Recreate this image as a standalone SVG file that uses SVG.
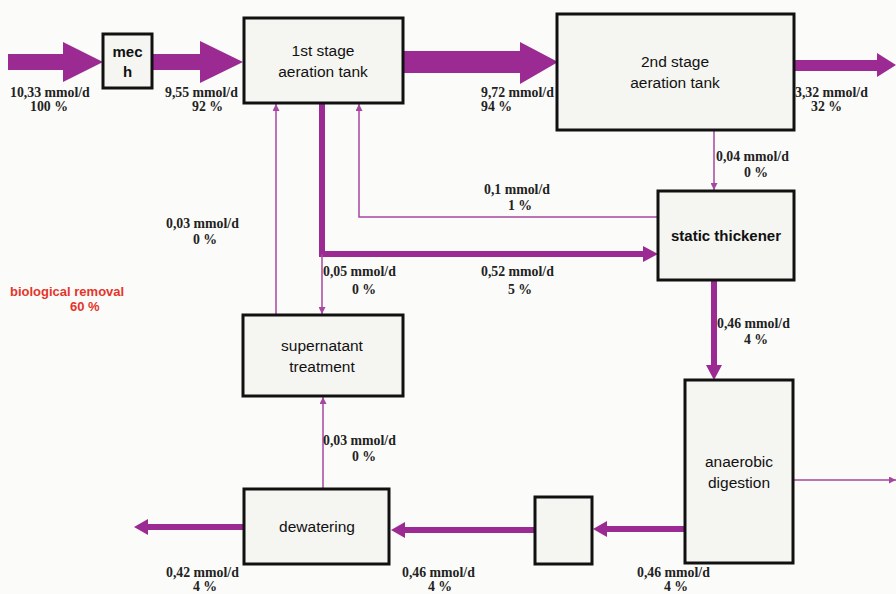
<svg xmlns="http://www.w3.org/2000/svg" width="896" height="594" viewBox="0 0 896 594">
  <defs>
    <style>
      .box { fill: #f5f5f1; stroke: #111; stroke-width: 3; }
      .node { font-family: "Liberation Sans", Arial, sans-serif; font-size: 15.5px; fill: #111; text-anchor: middle; }
      .nodeb { font-family: "Liberation Sans", Arial, sans-serif; font-size: 15px; font-weight: bold; fill: #111; text-anchor: middle; }
      .lbl { font-family: "Liberation Serif", "Times New Roman", serif; font-size: 13.8px; font-weight: bold; fill: #222; }
      .thick { fill: #9b2a92; }
      .thickline { fill: none; stroke: #9b2a92; stroke-width: 6; }
      .thin { fill: none; stroke: #a8479f; stroke-width: 1.5; }
      .red { font-family: "Liberation Sans", Arial, sans-serif; font-size: 13px; font-weight: bold; fill: #e5352b; }
    </style>
    <marker id="tip" viewBox="0 0 10 10" refX="10" refY="5" markerWidth="7" markerHeight="7" markerUnits="userSpaceOnUse" orient="auto">
      <path d="M0,0 L10,5 L0,10 z" fill="#a8479f"/>
    </marker>
  </defs>

  <rect width="896" height="594" fill="#fbfbf9"/>

  <!-- connectors -->
  <g id="connectors">
    <!-- inflow -->
    <polygon class="thick" points="8,54 63,54 63,42 103,62 63,82 63,70 8,70"/>
    <!-- mech to 1st stage -->
    <polygon class="thick" points="152,54 200,54 200,41 243,62 200,83 200,70 152,70"/>
    <!-- 1st stage to 2nd stage -->
    <polygon class="thick" points="403,51 520,51 520,42 558,62 520,84 520,73 403,73"/>
    <!-- effluent -->
    <polygon class="thick" points="794,60 877,60 877,53 896,65 877,77 877,71 794,71"/>
    <!-- excess sludge from 1st stage to thickener -->
    <path class="thickline" d="M322,103 V254 H645"/>
    <polygon class="thick" points="643,246 658,254 643,262"/>
    <!-- thickener to digestion -->
    <path class="thickline" d="M714,280 V366"/>
    <polygon class="thick" points="706,365 722,365 714,380"/>
    <!-- digestion to small box -->
    <path class="thickline" d="M685,529 H605"/>
    <polygon class="thick" points="607,521 607,537 593,529"/>
    <!-- small box to dewatering -->
    <path class="thickline" d="M535,530 H403"/>
    <polygon class="thick" points="405,522 405,538 391,530"/>
    <!-- dewatering outlet -->
    <path class="thickline" d="M244,527 H146"/>
    <polygon class="thick" points="148,519 148,535 134,527"/>

    <!-- supernatant return to 1st stage -->
    <path class="thin" d="M276,315 V104" marker-end="url(#tip)"/>
    <!-- thickener overflow to 1st stage -->
    <path class="thin" d="M658,217 H359 V104" marker-end="url(#tip)"/>
    <!-- branch to supernatant treatment -->
    <path class="thin" d="M322,254 V314" marker-end="url(#tip)"/>
    <!-- 2nd stage to thickener -->
    <path class="thin" d="M714,130 V190" marker-end="url(#tip)"/>
    <!-- dewatering to supernatant treatment -->
    <path class="thin" d="M323,489 V397" marker-end="url(#tip)"/>
    <!-- digestion outlet -->
    <path class="thin" d="M793,480 H896" marker-end="url(#tip)"/>
  </g>

  <!-- nodes -->
  <g id="mech">
    <rect class="box" x="103" y="34" width="49" height="54"/>
    <text class="nodeb" x="127.5" y="57">mec</text>
    <text class="nodeb" x="127.5" y="77">h</text>
  </g>
  <g id="stage1">
    <rect class="box" x="244" y="18" width="159" height="85"/>
    <text class="node" x="323" y="56">1st stage</text>
    <text class="node" x="323" y="77">aeration tank</text>
  </g>
  <g id="stage2">
    <rect class="box" x="557" y="14" width="237" height="116"/>
    <text class="node" x="675" y="67">2nd stage</text>
    <text class="node" x="675" y="88">aeration tank</text>
  </g>
  <g id="thickener">
    <rect class="box" x="658" y="191" width="136" height="89"/>
    <text class="nodeb" x="726" y="241">static thickener</text>
  </g>
  <g id="supernatant">
    <rect class="box" x="243" y="315" width="160" height="81"/>
    <text class="node" x="322" y="351">supernatant</text>
    <text class="node" x="322" y="372">treatment</text>
  </g>
  <g id="digestion">
    <rect class="box" x="685" y="380" width="108" height="183"/>
    <text class="node" x="739" y="467">anaerobic</text>
    <text class="node" x="739" y="488">digestion</text>
  </g>
  <g id="storage">
    <rect class="box" x="535" y="497" width="57" height="67"/>
  </g>
  <g id="dewatering">
    <rect class="box" x="244" y="489" width="145" height="75"/>
    <text class="node" x="317" y="532">dewatering</text>
  </g>

  <!-- flow labels -->
  <g id="labels">
    <text class="lbl" x="10" y="97">10,33 mmol/d</text>
    <text class="lbl" x="30" y="111">100 %</text>
    <text class="lbl" x="165" y="97">9,55 mmol/d</text>
    <text class="lbl" x="192" y="111">92 %</text>
    <text class="lbl" x="481" y="97">9,72 mmol/d</text>
    <text class="lbl" x="481" y="111">94 %</text>
    <text class="lbl" x="795" y="97">3,32 mmol/d</text>
    <text class="lbl" x="811" y="111">32 %</text>
    <text class="lbl" x="716" y="161">0,04 mmol/d</text>
    <text class="lbl" x="744" y="177">0 %</text>
    <text class="lbl" x="484" y="194">0,1 mmol/d</text>
    <text class="lbl" x="508" y="210">1 %</text>
    <text class="lbl" x="166" y="228">0,03 mmol/d</text>
    <text class="lbl" x="193" y="244">0 %</text>
    <text class="lbl" x="323" y="276">0,05 mmol/d</text>
    <text class="lbl" x="352" y="294">0 %</text>
    <text class="lbl" x="481" y="276">0,52 mmol/d</text>
    <text class="lbl" x="508" y="294">5 %</text>
    <text class="lbl" x="717" y="328">0,46 mmol/d</text>
    <text class="lbl" x="744" y="344">4 %</text>
    <text class="lbl" x="323" y="445">0,03 mmol/d</text>
    <text class="lbl" x="352" y="461">0 %</text>
    <text class="lbl" x="166" y="577">0,42 mmol/d</text>
    <text class="lbl" x="193" y="591">4 %</text>
    <text class="lbl" x="402" y="577">0,46 mmol/d</text>
    <text class="lbl" x="428" y="591">4 %</text>
    <text class="lbl" x="637" y="577">0,46 mmol/d</text>
    <text class="lbl" x="664" y="591">4 %</text>
    <text class="red" x="10" y="296">biological removal</text>
    <text class="red" x="70" y="311">60 %</text>
  </g>
</svg>
